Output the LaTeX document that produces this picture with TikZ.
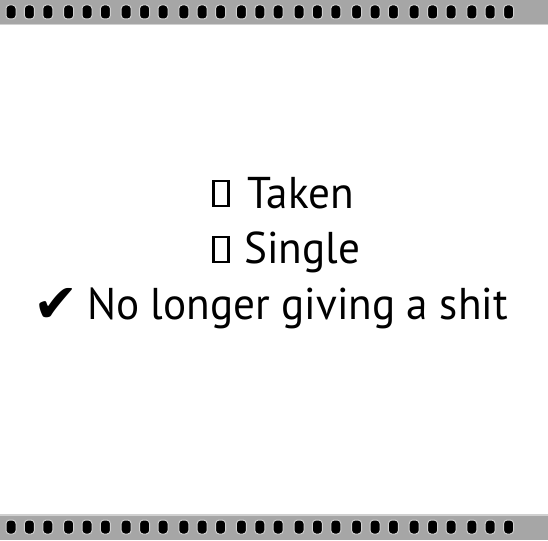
\documentclass[tikz,border=0pt]{standalone}
\usepackage{fontspec}
\setmainfont[FakeStretch=0.97]{PT Sans}
\newfontfamily\symfont{DejaVu Sans}
\definecolor{band}{HTML}{A6A6A6}
\definecolor{halo}{HTML}{D0D0D0}
\begin{document}
\begin{tikzpicture}[x=1pt,y=-1pt,
  hole/.style={fill=black,draw=halo,line width=1pt,rounded corners=3.5pt},
  txt/.style={anchor=base west,inner sep=0pt,font=\fontsize{44.5}{50}\selectfont},
  tofu/.style={draw=black,line width=2.4pt}]
\useasboundingbox (0,0) rectangle (548,540);
\fill[white] (0,0) rectangle (548,540);
% film bands
\fill[band] (0,0) rectangle (548,24);
\fill[halo] (0,24) rectangle (548,25.5);
\fill[band] (0,515) rectangle (548,540);
\fill[halo] (0,514) rectangle (548,515.5);
\foreach \g in {0,...,8}{
  \foreach \k in {0,1,2}{
    \pgfmathsetmacro{\cx}{11+57.6*\g+18.4*\k}
    \draw[hole] (\cx-5,5) rectangle (\cx+5,19);
    \draw[hole] (\cx-5,520) rectangle (\cx+5,534);
  }
}
% boxes
\draw[tofu] (213.5,181) rectangle (228.5,206) node[pos=0.5] (b1) {};
\draw[tofu] (213.5,237) rectangle (228.5,262) node[pos=0.5] (b2) {};
\node[anchor=center,inner sep=0pt,font=\symfont\fontsize{54}{58}\selectfont] (chk) at (56.5,305.5) {✔};
\node[txt] (t1) at (247,208) {Taken};
\node[txt] (t2) at (244,263) {Single};
\node[txt] (t3) at (87,319) {No longer giving a shit};
\end{tikzpicture}
\end{document}
